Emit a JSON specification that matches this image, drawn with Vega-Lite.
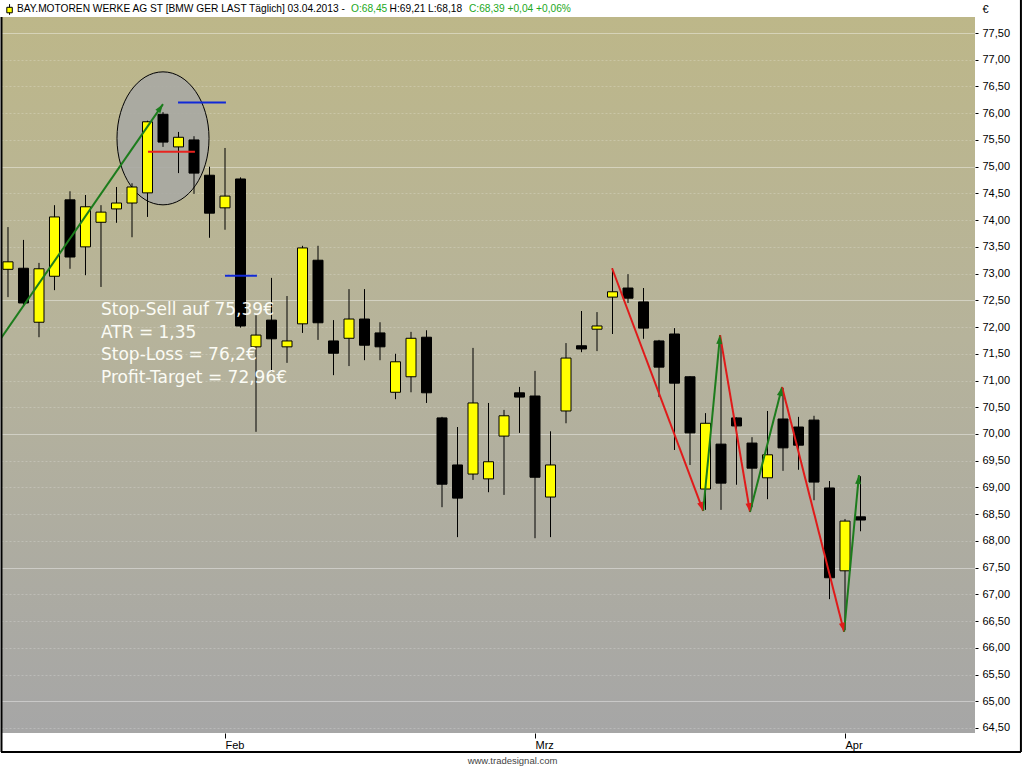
{
  "$schema": "https://vega.github.io/schema/vega-lite/v6.json",
  "width": 974,
  "height": 716,
  "autosize": {"type": "none"},
  "padding": {"left": 1, "top": 17, "right": 49, "bottom": 35},
  "background": "#ffffff",
  "view": {
    "fill": {"gradient": "linear", "x1": 0, "y1": 0, "x2": 0, "y2": 1,
      "stops": [{"offset": 0, "color": "#bdb789"}, {"offset": 0.45, "color": "#b6b39b"}, {"offset": 1, "color": "#a6a6a6"}]},
    "stroke": null
  },
  "config": {"font": "Liberation Sans"},
  "datasets": {
    "ohlc": [
      {"d": "2013-01-14", "i": 0, "o": 73.08, "h": 73.87, "l": 72.56, "c": 73.22},
      {"d": "2013-01-15", "i": 1, "o": 73.10, "h": 73.63, "l": 72.40, "c": 72.45},
      {"d": "2013-01-16", "i": 2, "o": 72.09, "h": 73.20, "l": 71.81, "c": 73.09},
      {"d": "2013-01-17", "i": 3, "o": 72.95, "h": 74.28, "l": 72.69, "c": 74.06},
      {"d": "2013-01-18", "i": 4, "o": 74.38, "h": 74.54, "l": 73.09, "c": 73.31},
      {"d": "2013-01-21", "i": 5, "o": 73.50, "h": 74.47, "l": 72.97, "c": 74.25},
      {"d": "2013-01-22", "i": 6, "o": 73.96, "h": 74.28, "l": 72.75, "c": 74.15},
      {"d": "2013-01-23", "i": 7, "o": 74.21, "h": 74.62, "l": 73.95, "c": 74.32},
      {"d": "2013-01-24", "i": 8, "o": 74.32, "h": 74.69, "l": 73.68, "c": 74.62},
      {"d": "2013-01-25", "i": 9, "o": 74.51, "h": 75.86, "l": 74.06, "c": 75.84},
      {"d": "2013-01-28", "i": 10, "o": 75.98, "h": 76.02, "l": 75.37, "c": 75.46},
      {"d": "2013-01-29", "i": 11, "o": 75.37, "h": 75.65, "l": 74.88, "c": 75.55},
      {"d": "2013-01-30", "i": 12, "o": 75.50, "h": 75.57, "l": 74.49, "c": 74.88},
      {"d": "2013-01-31", "i": 13, "o": 74.84, "h": 75.00, "l": 73.67, "c": 74.13},
      {"d": "2013-02-01", "i": 14, "o": 74.23, "h": 75.35, "l": 73.82, "c": 74.45},
      {"d": "2013-02-04", "i": 15, "o": 74.77, "h": 74.80, "l": 71.99, "c": 72.02},
      {"d": "2013-02-05", "i": 16, "o": 71.63, "h": 72.22, "l": 70.04, "c": 71.85},
      {"d": "2013-02-06", "i": 17, "o": 72.13, "h": 72.92, "l": 71.16, "c": 71.78},
      {"d": "2013-02-07", "i": 18, "o": 71.63, "h": 72.58, "l": 71.33, "c": 71.74},
      {"d": "2013-02-08", "i": 19, "o": 72.06, "h": 73.52, "l": 71.89, "c": 73.48},
      {"d": "2013-02-11", "i": 20, "o": 73.25, "h": 73.52, "l": 71.76, "c": 72.08},
      {"d": "2013-02-12", "i": 21, "o": 71.74, "h": 72.13, "l": 71.10, "c": 71.51},
      {"d": "2013-02-13", "i": 22, "o": 71.79, "h": 72.71, "l": 71.27, "c": 72.15},
      {"d": "2013-02-14", "i": 23, "o": 72.15, "h": 72.71, "l": 71.38, "c": 71.66},
      {"d": "2013-02-15", "i": 24, "o": 71.89, "h": 72.09, "l": 71.38, "c": 71.63},
      {"d": "2013-02-18", "i": 25, "o": 70.78, "h": 71.50, "l": 70.65, "c": 71.35},
      {"d": "2013-02-19", "i": 26, "o": 71.07, "h": 71.91, "l": 70.78, "c": 71.79},
      {"d": "2013-02-20", "i": 27, "o": 71.81, "h": 71.94, "l": 70.58, "c": 70.77},
      {"d": "2013-02-21", "i": 28, "o": 70.30, "h": 70.32, "l": 68.63, "c": 69.06},
      {"d": "2013-02-22", "i": 29, "o": 69.42, "h": 70.13, "l": 68.07, "c": 68.80},
      {"d": "2013-02-25", "i": 30, "o": 69.25, "h": 71.61, "l": 69.14, "c": 70.58},
      {"d": "2013-02-26", "i": 31, "o": 69.16, "h": 70.58, "l": 68.91, "c": 69.48},
      {"d": "2013-02-27", "i": 32, "o": 69.96, "h": 70.45, "l": 68.86, "c": 70.34},
      {"d": "2013-02-28", "i": 33, "o": 70.77, "h": 70.88, "l": 70.02, "c": 70.69},
      {"d": "2013-03-01", "i": 34, "o": 70.71, "h": 71.18, "l": 68.05, "c": 69.19},
      {"d": "2013-03-04", "i": 35, "o": 68.82, "h": 70.05, "l": 68.07, "c": 69.42},
      {"d": "2013-03-05", "i": 36, "o": 70.43, "h": 71.70, "l": 70.20, "c": 71.42},
      {"d": "2013-03-06", "i": 37, "o": 71.65, "h": 72.30, "l": 71.53, "c": 71.59},
      {"d": "2013-03-07", "i": 38, "o": 71.96, "h": 72.28, "l": 71.55, "c": 72.02},
      {"d": "2013-03-08", "i": 39, "o": 72.56, "h": 73.10, "l": 71.87, "c": 72.66},
      {"d": "2013-03-11", "i": 40, "o": 72.73, "h": 72.99, "l": 72.45, "c": 72.54},
      {"d": "2013-03-12", "i": 41, "o": 72.47, "h": 72.73, "l": 71.78, "c": 71.98},
      {"d": "2013-03-13", "i": 42, "o": 71.74, "h": 71.76, "l": 70.69, "c": 71.25},
      {"d": "2013-03-14", "i": 43, "o": 71.87, "h": 71.98, "l": 69.70, "c": 70.95},
      {"d": "2013-03-15", "i": 44, "o": 71.07, "h": 71.08, "l": 69.42, "c": 70.02},
      {"d": "2013-03-18", "i": 45, "o": 68.97, "h": 70.39, "l": 68.58, "c": 70.20},
      {"d": "2013-03-19", "i": 46, "o": 69.81, "h": 71.70, "l": 68.58, "c": 69.08},
      {"d": "2013-03-20", "i": 47, "o": 70.30, "h": 70.31, "l": 69.05, "c": 70.15},
      {"d": "2013-03-21", "i": 48, "o": 69.83, "h": 69.94, "l": 68.63, "c": 69.36},
      {"d": "2013-03-22", "i": 49, "o": 69.18, "h": 70.43, "l": 68.78, "c": 69.61},
      {"d": "2013-03-25", "i": 50, "o": 70.28, "h": 70.86, "l": 69.31, "c": 69.74},
      {"d": "2013-03-26", "i": 51, "o": 70.13, "h": 70.32, "l": 69.33, "c": 69.79},
      {"d": "2013-03-27", "i": 52, "o": 70.26, "h": 70.34, "l": 68.76, "c": 69.10},
      {"d": "2013-03-28", "i": 53, "o": 68.99, "h": 69.12, "l": 66.91, "c": 67.31},
      {"d": "2013-04-02", "i": 54, "o": 67.44, "h": 68.41, "l": 66.33, "c": 68.37},
      {"d": "2013-04-03", "i": 55, "o": 68.45, "h": 69.21, "l": 68.18, "c": 68.39}
    ],
    "arrows": [
      {"i0": -1, "p0": 71.56, "i1": 10.0, "p1": 76.17, "dir": "up"},
      {"i0": 38.97, "p0": 73.10, "i1": 44.85, "p1": 68.56, "dir": "down"},
      {"i0": 44.85, "p0": 68.56, "i1": 45.94, "p1": 71.85, "dir": "up"},
      {"i0": 45.94, "p0": 71.85, "i1": 47.87, "p1": 68.54, "dir": "down"},
      {"i0": 47.87, "p0": 68.54, "i1": 49.94, "p1": 70.88, "dir": "up"},
      {"i0": 49.94, "p0": 70.88, "i1": 53.94, "p1": 66.30, "dir": "down"},
      {"i0": 53.94, "p0": 66.30, "i1": 54.9, "p1": 69.23, "dir": "up"}
    ],
    "levels": [
      {"i0": 9.03, "i1": 12.06, "p": 75.28, "kind": "Stop-Sell"},
      {"i0": 10.97, "i1": 14.06, "p": 76.2, "kind": "Stop-Loss"},
      {"i0": 14.0, "i1": 16.06, "p": 72.96, "kind": "Profit-Target"}
    ],
    "ellipse": [{"i": 10, "p": 75.53}],
    "notes": [{"i": 6.0, "p": 72.225, "t": "Stop-Sell auf 75,39€\nATR = 1,35\nStop-Loss = 76,2€\nProfit-Target = 72,96€"}],
    "header": [
      {"i": 0.58, "t": "BAY.MOTOREN WERKE AG ST [BMW GER LAST Täglich] 03.04.2013 -", "kind": "name"},
      {"i": 22.13, "t": "O:68,45", "kind": "up"},
      {"i": 24.62, "t": "H:69,21 L:68,18", "kind": "name"},
      {"i": 29.74, "t": "C:68,39 +0,04 +0,06%", "kind": "up"}
    ],
    "icon": [{"i": 0.1, "p": 77.93, "lo": 77.84, "hi": 78.04}],
    "frame": [
      {"i0": -0.42, "p0": 64.05, "i1": -0.42, "p1": 77.80},
      {"i0": -0.45, "p0": 64.05, "i1": 65.35, "p1": 64.05},
      {"i0": 65.35, "p0": 64.05, "i1": 65.35, "p1": 78.12}
    ]
  },
  "encoding": {
    "x": {"field": "i", "type": "quantitative",
      "scale": {"domain": [-0.4516, 62.387], "nice": false, "zero": false, "padding": 0},
      "axis": {"values": [14, 34, 54], "labelExpr": "datum.value == 14 ? 'Feb' : datum.value == 34 ? 'Mrz' : 'Apr'",
        "domain": false, "grid": false, "tickSize": 5, "tickColor": "#000000", "labelAlign": "left", "labelBaseline": "top",
        "labelPadding": 1, "labelFontSize": 11, "labelColor": "#000000", "labelFlush": false, "labelOverlap": false,
        "title": "www.tradesignal.com", "titleFontSize": 9.5, "titleFontWeight": "normal", "titleColor": "#444444", "titlePadding": 5,
        "titleX": 511, "titleAnchor": "start", "titleAlign": "center"}
    },
    "y": {"type": "quantitative",
      "scale": {"domain": [64.406, 77.80], "nice": false, "zero": false},
      "axis": {"orient": "right", "values": [64.5,65,65.5,66,66.5,67,67.5,68,68.5,69,69.5,70,70.5,71,71.5,72,72.5,73,73.5,74,74.5,75,75.5,76,76.5,77,77.5],
        "labelExpr": "replace(format(datum.value, '.2f'), '.', ',')",
        "domain": false, "tickSize": 3, "tickColor": "#000000", "labelPadding": 4, "labelFontSize": 11, "labelColor": "#000000",
        "labelFlush": false, "labelOverlap": false,
        "grid": true, "gridColor": "#ffffff",
        "gridOpacity": {"condition": {"test": "abs(datum.value/2.5 - round(datum.value/2.5)) < 0.001", "value": 0.45}, "value": 0.22},
        "gridDash": {"condition": {"test": "abs(datum.value/2.5 - round(datum.value/2.5)) < 0.001", "value": [1, 0]}, "value": [2, 2]},
        "title": "€", "titleAngle": 0, "titleFontSize": 11, "titleFontWeight": "normal", "titleColor": "#000000",
        "titleX": 7, "titleY": -8, "titleAlign": "left", "titleBaseline": "middle"}
    }
  },
  "layer": [
    {
      "data": {"name": "ellipse"},
      "mark": {"type": "point", "shape": "M-0.692,0A0.692,1 0 1,1 0.692,0A0.692,1 0 1,1 -0.692,0Z", "size": 17689,
        "filled": true, "fill": "#a9a8a3", "fillOpacity": 0.9, "stroke": "#000000", "strokeWidth": 1, "opacity": 1},
      "encoding": {"y": {"field": "p", "type": "quantitative"}}
    },
    {
      "data": {"name": "ohlc"},
      "mark": {"type": "rule", "color": "#000000", "strokeWidth": 1},
      "encoding": {"y": {"field": "l", "type": "quantitative"}, "y2": {"field": "h"}}
    },
    {
      "data": {"name": "ohlc"},
      "mark": {"type": "bar", "width": 10, "stroke": "#000000", "strokeWidth": 1},
      "encoding": {
        "y": {"field": "o", "type": "quantitative"}, "y2": {"field": "c"},
        "fill": {"condition": {"test": "datum.c >= datum.o", "value": "#ffff00"}, "value": "#000000"}
      }
    },
    {
      "data": {"name": "levels"},
      "mark": {"type": "rule", "strokeWidth": 2},
      "encoding": {
        "x": {"field": "i0", "type": "quantitative"}, "x2": {"field": "i1"},
        "y": {"field": "p", "type": "quantitative"},
        "color": {"condition": {"test": "datum.kind == 'Stop-Sell'", "value": "#e8231f"}, "value": "#1028d8"}
      }
    },
    {
      "data": {"name": "arrows"},
      "mark": {"type": "rule", "strokeWidth": 2, "clip": true},
      "encoding": {
        "x": {"field": "i0", "type": "quantitative"}, "x2": {"field": "i1"},
        "y": {"field": "p0", "type": "quantitative"}, "y2": {"field": "p1"},
        "color": {"condition": {"test": "datum.dir == 'up'", "value": "#1c7c1c"}, "value": "#e01a1a"}
      }
    },
    {
      "data": {"name": "arrows"},
      "transform": [{"calculate": "atan2((datum.i1 - datum.i0) * 15.5, (datum.p1 - datum.p0) * 53.46) * 180 / PI", "as": "ang"}],
      "mark": {"type": "point", "shape": "M0,0L-0.6,1.8L0.6,1.8Z", "size": 100, "filled": true, "opacity": 1},
      "encoding": {
        "x": {"field": "i1", "type": "quantitative"},
        "y": {"field": "p1", "type": "quantitative"},
        "angle": {"field": "ang", "type": "quantitative", "scale": null},
        "color": {"condition": {"test": "datum.dir == 'up'", "value": "#1c7c1c"}, "value": "#e01a1a"}
      }
    },
    {
      "data": {"name": "notes"},
      "mark": {"type": "text", "align": "left", "baseline": "alphabetic", "font": "DejaVu Sans", "fontSize": 17, "lineHeight": 22.7, "lineBreak": "\n", "color": "#fbfbf4"},
      "encoding": {"y": {"field": "p", "type": "quantitative"}, "text": {"field": "t"}}
    },
    {
      "data": {"name": "header"},
      "mark": {"type": "text", "align": "left", "baseline": "middle", "fontSize": 10.2},
      "encoding": {
        "y": {"datum": 77.95},
        "text": {"field": "t"},
        "color": {"condition": {"test": "datum.kind == 'up'", "value": "#22a822"}, "value": "#000000"}
      }
    },
    {
      "data": {"name": "icon"},
      "mark": {"type": "rule", "color": "#000000", "strokeWidth": 1},
      "encoding": {"y": {"field": "lo", "type": "quantitative"}, "y2": {"field": "hi"}}
    },
    {
      "data": {"name": "icon"},
      "mark": {"type": "point", "shape": "square", "size": 30, "filled": true, "fill": "#ffff00", "stroke": "#000000", "strokeWidth": 1, "opacity": 1},
      "encoding": {"y": {"field": "p", "type": "quantitative"}}
    },
    {
      "data": {"name": "frame"},
      "mark": {"type": "rule", "color": "#000000", "strokeWidth": 2},
      "encoding": {
        "x": {"field": "i0", "type": "quantitative"}, "x2": {"field": "i1"},
        "y": {"field": "p0", "type": "quantitative"}, "y2": {"field": "p1"}
      }
    }
  ]
}
